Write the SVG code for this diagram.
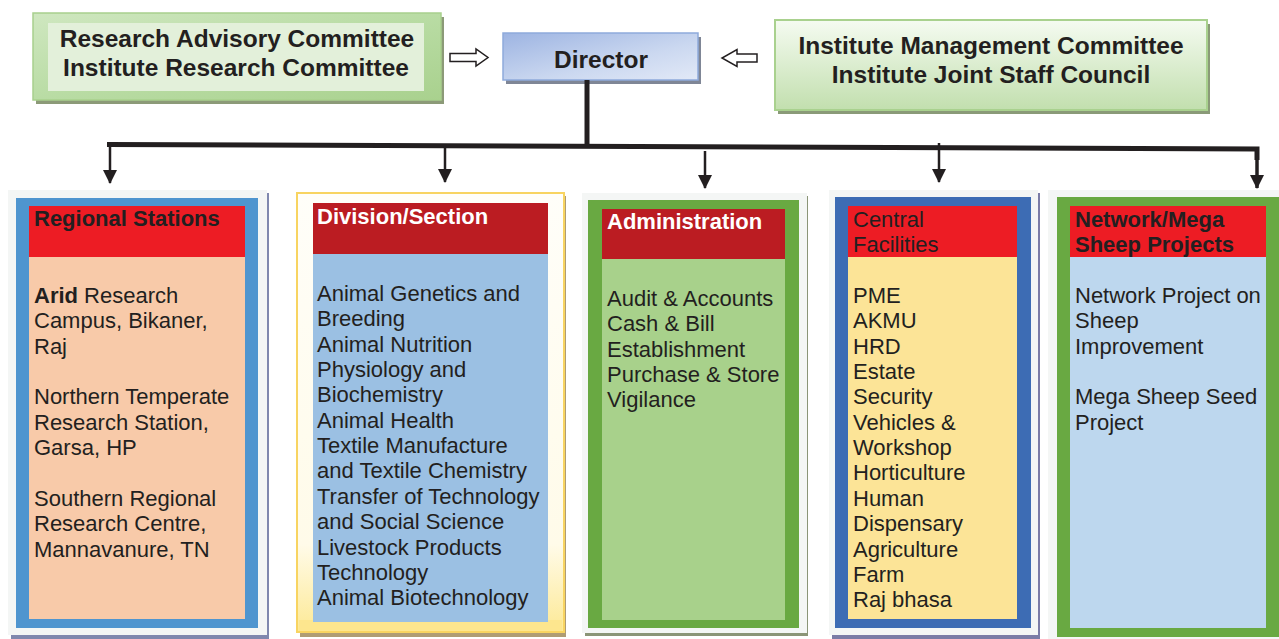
<svg xmlns="http://www.w3.org/2000/svg" width="1279" height="639" viewBox="0 0 1279 639">
  <defs>
    <linearGradient id="gLeftFrame" x1="0" y1="0" x2="1" y2="1">
      <stop offset="0" stop-color="#cfe7c0"/>
      <stop offset="0.5" stop-color="#b9dca4"/>
      <stop offset="1" stop-color="#a9d18e"/>
    </linearGradient>
    <linearGradient id="gRight" x1="0" y1="0" x2="0" y2="1">
      <stop offset="0" stop-color="#f5fbf1"/>
      <stop offset="1" stop-color="#c2dfae"/>
    </linearGradient>
    <linearGradient id="gDirector" x1="0" y1="0" x2="1" y2="1">
      <stop offset="0" stop-color="#9db4e2"/>
      <stop offset="0.6" stop-color="#cbd8f0"/>
      <stop offset="1" stop-color="#e2e9f7"/>
    </linearGradient>
    <linearGradient id="gYellow" x1="0" y1="0" x2="0" y2="1">
      <stop offset="0" stop-color="#fffef9"/>
      <stop offset="0.8" stop-color="#fffbe9"/>
      <stop offset="1" stop-color="#fde995"/>
    </linearGradient>
    <marker id="head" markerUnits="userSpaceOnUse" markerWidth="14" markerHeight="14" viewBox="0 0 14 14" refX="13" refY="7" orient="auto">
      <path d="M0,0 L14,7 L0,14 Z" fill="#231f20"/>
    </marker>
    <style>
      text { font-family: "Liberation Sans", Arial, sans-serif; fill: #231f20; }
      .top { font-size: 24.5px; font-weight: bold; text-anchor: middle; }
      .hd { font-size: 22px; font-weight: bold; }
      .hdw { font-size: 22px; font-weight: bold; fill: #ffffff; }
      .hdr { font-size: 22px; }
      .body { font-size: 22px; }
      .panel { fill: #f4f6f5; }
      .hollow { fill: #ffffff; stroke: #231f20; stroke-width: 1.5; }
      .drop { stroke: #231f20; stroke-width: 2.5; fill: none; }
    </style>
  </defs>

  <!-- committees feeding the Director -->
  <g id="research-committees">
    <rect x="36" y="17" width="408" height="87" fill="#8c9a78"/>
    <rect x="33" y="13" width="408" height="87" fill="url(#gLeftFrame)" stroke="#a8d08d" stroke-width="1.5"/>
    <rect x="48" y="23" width="376" height="68" fill="#e3f0da"/>
    <text class="top" x="237" y="47">Research Advisory Committee</text>
    <text class="top" x="236" y="76">Institute Research Committee</text>
  </g>

  <g id="director">
    <rect x="506" y="37" width="195" height="47" fill="#7f8696"/>
    <rect x="503" y="33" width="195" height="47" fill="url(#gDirector)" stroke="#8eaadb" stroke-width="1.5"/>
    <text class="top" x="601" y="68">Director</text>
  </g>

  <g id="management-committees">
    <rect x="778" y="24" width="432" height="90" fill="#8a9a78"/>
    <rect x="775" y="20" width="432" height="90" fill="url(#gRight)" stroke="#a9d18e" stroke-width="2"/>
    <text class="top" x="991" y="54">Institute Management Committee</text>
    <text class="top" x="991" y="83">Institute Joint Staff Council</text>
  </g>

  <!-- connectors -->
  <g id="connectors">
    <polygon class="hollow" points="450,53.5 476,53.5 476,49 488,57.5 476,66 476,61.5 450,61.5"/>
    <polygon class="hollow" points="757,54 737,54 737,49.5 722,58 737,66.5 737,62 757,62"/>
    <line x1="587" y1="80" x2="587" y2="146" stroke="#231f20" stroke-width="5"/>
    <polyline points="107,144.5 1257,149 1257,160" fill="none" stroke="#231f20" stroke-width="5" stroke-linejoin="miter"/>
    <line class="drop" x1="110" y1="145" x2="110" y2="183" marker-end="url(#head)"/>
    <line class="drop" x1="445" y1="146" x2="445" y2="182" marker-end="url(#head)"/>
    <line class="drop" x1="705" y1="151" x2="705" y2="188" marker-end="url(#head)"/>
    <line class="drop" x1="939" y1="143" x2="939" y2="182" marker-end="url(#head)"/>
    <line x1="1257" y1="150" x2="1257" y2="188" stroke="#231f20" stroke-width="3.5" marker-end="url(#head)"/>
  </g>

  <g id="regional-stations">
    <rect x="11" y="193" width="258" height="446" fill="#8088ae"/>
    <rect class="panel" x="8" y="190" width="259" height="445"/>
    <rect x="16" y="198" width="242" height="430" fill="#4f95cf"/>
    <rect x="29" y="206" width="216" height="51" fill="#ed1c24"/>
    <rect x="29" y="257" width="216" height="362" fill="#f8caa9"/>
    <text class="hd" x="34" y="226">Regional Stations</text>
    <text class="body" x="34" y="303"><tspan font-weight="bold">Arid</tspan> Research<tspan x="34" dy="25.35">Campus, Bikaner,</tspan><tspan x="34" dy="25.35">Raj</tspan><tspan x="34" dy="50.7">Northern Temperate</tspan><tspan x="34" dy="25.35">Research Station,</tspan><tspan x="34" dy="25.35">Garsa, HP</tspan><tspan x="34" dy="50.7">Southern Regional</tspan><tspan x="34" dy="25.35">Research Centre,</tspan><tspan x="34" dy="25.35">Mannavanure, TN</tspan></text>
  </g>

  <g id="division-section">
    <rect x="300" y="196" width="266" height="441" fill="#af9c74"/>
    <rect x="297" y="193" width="267" height="439" fill="url(#gYellow)" stroke="#f8d461" stroke-width="2"/>
    <rect x="299" y="620" width="263" height="11" fill="#fde68e"/>
    <rect x="313" y="203" width="235" height="51" fill="#bb1c22"/>
    <rect x="313" y="254" width="235" height="368" fill="#9bc0e3"/>
    <text class="hdw" x="317" y="224">Division/Section</text>
    <text class="body" x="317" y="301">Animal Genetics and<tspan x="317" dy="25.35">Breeding</tspan><tspan x="317" dy="25.35">Animal Nutrition</tspan><tspan x="317" dy="25.35">Physiology and</tspan><tspan x="317" dy="25.35">Biochemistry</tspan><tspan x="317" dy="25.35">Animal Health</tspan><tspan x="317" dy="25.35">Textile Manufacture</tspan><tspan x="317" dy="25.35">and Textile Chemistry</tspan><tspan x="317" dy="25.35">Transfer of Technology</tspan><tspan x="317" dy="25.35">and Social Science</tspan><tspan x="317" dy="25.35">Livestock Products</tspan><tspan x="317" dy="25.35">Technology</tspan><tspan x="317" dy="25.35">Animal Biotechnology</tspan></text>
  </g>

  <g id="administration">
    <rect x="585" y="196" width="223" height="440" fill="#8b9577"/>
    <rect class="panel" x="582" y="193" width="225" height="440"/>
    <rect x="588" y="200" width="211" height="428" fill="#69a942"/>
    <rect x="602" y="209" width="183" height="50" fill="#bb1c22"/>
    <rect x="602" y="259" width="183" height="361" fill="#a8d18b"/>
    <text class="hdw" x="607" y="229">Administration</text>
    <text class="body" x="607" y="306">Audit &amp; Accounts<tspan x="607" dy="25.35">Cash &amp; Bill</tspan><tspan x="607" dy="25.35">Establishment</tspan><tspan x="607" dy="25.35">Purchase &amp; Store</tspan><tspan x="607" dy="25.35">Vigilance</tspan></text>
  </g>

  <g id="central-facilities">
    <rect x="832" y="193" width="208" height="446" fill="#7b7ca6"/>
    <rect class="panel" x="829" y="190" width="209" height="445"/>
    <rect x="835" y="197" width="196" height="431" fill="#3d6cb4"/>
    <rect x="848" y="206" width="169" height="51" fill="#ed1c24"/>
    <rect x="848" y="257" width="169" height="362" fill="#fce497"/>
    <text class="hdr" x="853" y="227">Central<tspan x="853" dy="25.35">Facilities</tspan></text>
    <text class="body" x="853" y="303">PME<tspan x="853" dy="25.35">AKMU</tspan><tspan x="853" dy="25.35">HRD</tspan><tspan x="853" dy="25.35">Estate</tspan><tspan x="853" dy="25.35">Security</tspan><tspan x="853" dy="25.35">Vehicles &amp;</tspan><tspan x="853" dy="25.35">Workshop</tspan><tspan x="853" dy="25.35">Horticulture</tspan><tspan x="853" dy="25.35">Human</tspan><tspan x="853" dy="25.35">Dispensary</tspan><tspan x="853" dy="25.35">Agriculture</tspan><tspan x="853" dy="25.35">Farm</tspan><tspan x="853" dy="25.35">Raj bhasa</tspan></text>
  </g>

  <g id="network-projects">
    <rect class="panel" x="1048" y="190" width="235" height="449"/>
    <rect x="1057" y="197" width="225" height="440" fill="#69a942"/>
    <rect x="1070" y="206" width="196" height="51" fill="#ed1c24"/>
    <rect x="1070" y="257" width="196" height="371" fill="#bdd7ee"/>
    <text class="hd" x="1075" y="227">Network/Mega<tspan x="1075" dy="25.35">Sheep Projects</tspan></text>
    <text class="body" x="1075" y="303">Network Project on<tspan x="1075" dy="25.35">Sheep</tspan><tspan x="1075" dy="25.35">Improvement</tspan><tspan x="1075" dy="50.7">Mega Sheep Seed</tspan><tspan x="1075" dy="25.35">Project</tspan></text>
  </g>
</svg>
